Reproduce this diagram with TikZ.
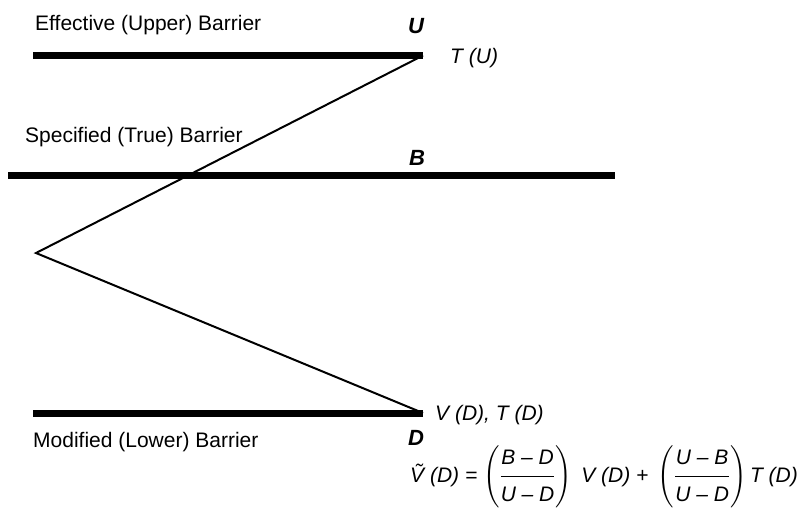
\documentclass[tikz,border=0pt]{standalone}
\usepackage{fontspec}
\usepackage{amsmath}
\setmainfont{Liberation Sans}
\newcommand{\fr}[2]{\genfrac{}{}{1.1pt}{0}{\mbox{\rule[-8pt]{0pt}{8pt}#1}}{\mbox{\rule{0pt}{21pt}#2}}}
\begin{document}
\begin{tikzpicture}[x=1pt,y=-1pt,
  barrier/.style={line width=7pt},
  zig/.style={line width=2pt, line join=miter},
  lbl/.style={font=\fontsize{21}{24}\selectfont, inner sep=0pt, anchor=base west},
  letter/.style={font=\fontsize{22}{24}\selectfont\bfseries\itshape, inner sep=0pt, anchor=base},
  itl/.style={font=\fontsize{21}{24}\selectfont\itshape, inner sep=0pt, anchor=base west}]
\useasboundingbox (0,0) rectangle (800,507);
% barrier end points
\coordinate (u1) at (33,55.5);
\coordinate (u2) at (423,55.5);
\coordinate (b1) at (8,175);
\coordinate (b2) at (615,175);
\coordinate (d1) at (33,413);
\coordinate (d2) at (423,413);
\coordinate (apex) at (36,253);
% barriers
\draw[barrier] (u1) -- (u2);
\draw[barrier] (b1) -- (b2);
\draw[barrier] (d1) -- (d2);
% path
\draw[zig] (u2) -- (apex) -- (d2);
% labels
\node[lbl] (eff) at (35,30) {Effective (Upper) Barrier};
\node[lbl] (spec) at (25,142) {Specified (True) Barrier};
\node[lbl] (mod) at (33,447) {Modified (Lower) Barrier};
\node[letter] (U) at (416,33) {U};
\node[letter] (B) at (417,165) {B};
\node[letter] (D) at (416,445) {D};
\node[itl] (TU) at (450,63) {T (U)};
\node[itl] (VD) at (435,420) {V (D), T (D)};
\node[itl] (form) at (410,482) {\delimitershortfall=-4pt\delimiterfactor=1000$\displaystyle
  \mbox{\~V (D) = }\!
  \left(\fr{B – D}{U – D}\right)
  \mbox{ V (D) + }
  \left(\fr{U – B}{U – D}\right)\mbox{T (D)}$};
\end{tikzpicture}
\end{document}
